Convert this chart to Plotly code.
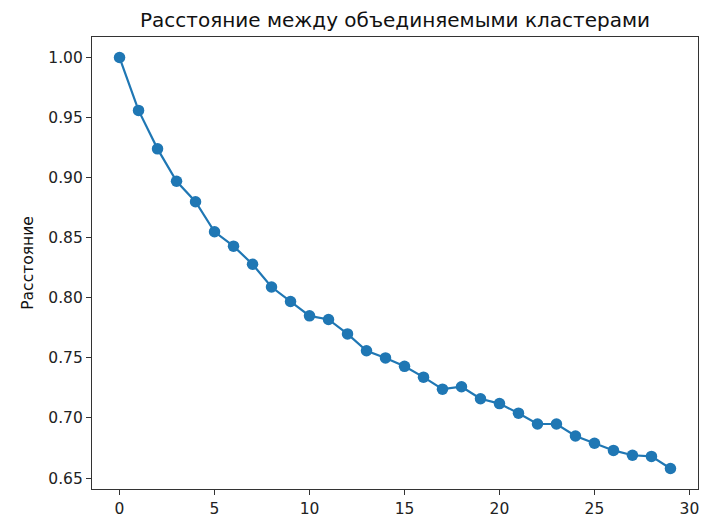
import plotly.graph_objects as go

steps = list(range(30))
distances = [1.000, 0.956, 0.924, 0.897, 0.880, 0.855, 0.843, 0.828, 0.809, 0.797,
             0.785, 0.782, 0.770, 0.756, 0.750, 0.743, 0.734, 0.724, 0.726, 0.716,
             0.712, 0.704, 0.695, 0.695, 0.685, 0.679, 0.673, 0.669, 0.668, 0.658]

title_text = "Расстояние между объединяемыми кластерами"
y_label = "Расстояние"

# page body has an 8px margin; figure sized to fit 721x525 window
W, H = 705, 509

fig = go.Figure()
fig.add_trace(go.Scatter(
    x=steps, y=distances, mode="lines+markers",
    line=dict(color="#1f77b4", width=2.2),
    marker=dict(color="#1f77b4", size=11.5),
    showlegend=False,
))

axis_common = dict(
    showgrid=False, zeroline=False, showline=True, mirror=True,
    linecolor="#333333", linewidth=1.2,
    ticks="outside", ticklen=5, tickcolor="#333333",
    tickfont=dict(family="DejaVu Sans", size=15.5, color="#222222"),
)

fig.update_layout(
    width=W, height=H,
    margin=dict(l=84, r=15, t=29, b=28, autoexpand=False),
    paper_bgcolor="white", plot_bgcolor="white",
    title=dict(text=title_text, x=(84 + 690) / 2 / W, xanchor="center",
               y=1 - 12 / H, yanchor="middle",
               font=dict(family="DejaVu Sans", size=20, color="#111111")),
    xaxis=dict(range=[-1.45, 30.45], tickmode="array", tickvals=[0, 5, 10, 15, 20, 25, 30],
               **axis_common),
    yaxis=dict(range=[0.6409, 1.0171], tickmode="array",
               tickvals=[0.65, 0.70, 0.75, 0.80, 0.85, 0.90, 0.95, 1.00],
               tickformat=".2f",
               title=dict(text=y_label, standoff=10,
                          font=dict(family="DejaVu Sans", size=15.5, color="#111111")),
               **axis_common),
)

fig.write_html("out.html")
